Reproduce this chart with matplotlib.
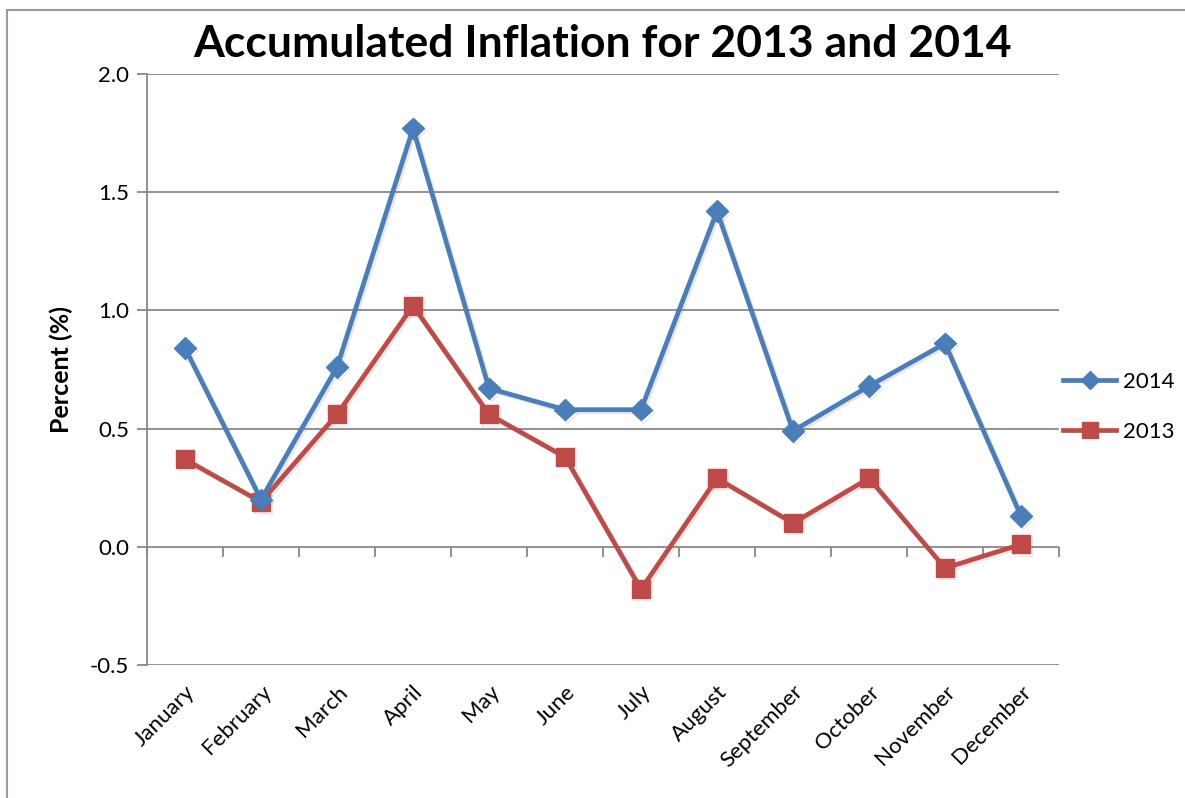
import matplotlib
matplotlib.use('Agg')
import matplotlib.pyplot as plt
import matplotlib.patheffects as pe
from matplotlib.lines import Line2D

months = ['January', 'February', 'March', 'April', 'May', 'June', 'July',
          'August', 'September', 'October', 'November', 'December']
infl_2014 = [0.84, 0.20, 0.76, 1.77, 0.67, 0.58, 0.58, 1.42, 0.49, 0.68, 0.86, 0.13]
infl_2013 = [0.37, 0.19, 0.56, 1.02, 0.56, 0.38, -0.18, 0.29, 0.10, 0.29, -0.09, 0.01]
y_ticks = [-0.5, 0.0, 0.5, 1.0, 1.5, 2.0]

plt.rcParams['font.family'] = ['Lato', 'DejaVu Sans']

BLUE = '#4A7EBB'
RED = '#BE4B48'
GRID = '#888888'

fig = plt.figure(figsize=(11.85, 7.98), dpi=100)
ax = fig.add_axes([147/1185, 1 - 665/798, (1059 - 147)/1185, (665 - 74)/798])

shadow = [pe.SimpleLineShadow(offset=(1.5, -1.5), alpha=0.18, shadow_color='gray'), pe.Normal()]
x = list(range(len(months)))
ax.plot(x, infl_2014, color=BLUE, lw=3.4, marker='D', ms=11, label='2014', zorder=4,
        path_effects=shadow)
ax.plot(x, infl_2013, color=RED, lw=3.4, marker='s', ms=13, label='2013', zorder=3,
        path_effects=shadow)

ax.set_xlim(-0.5, len(months) - 0.5)
ax.set_ylim(-0.5, 2.0)
ax.set_yticks(y_ticks)
ax.set_yticklabels([f'{v:.1f}' for v in y_ticks], fontsize=16)
ax.yaxis.grid(True, color=GRID, lw=1.3)
ax.set_axisbelow(True)
ax.tick_params(axis='y', length=7, width=1.3, color=GRID, pad=6)

ax.set_xticks(x)
ax.set_xticklabels(months, rotation=45, ha='right', rotation_mode='anchor', fontsize=16)
ax.tick_params(axis='x', length=0, pad=12)

for s in ['top', 'right', 'bottom']:
    ax.spines[s].set_visible(False)
ax.spines['left'].set_color(GRID)
ax.spines['left'].set_linewidth(1.3)

# category boundary ticks on the zero line
sec = ax.secondary_xaxis(0.2)
sec.set_xticks([i - 0.5 for i in range(len(months) + 1)])
sec.set_xticklabels([])
sec.tick_params(length=7, width=1.3, color=GRID)
sec.spines['bottom'].set_visible(False)

ax.set_ylabel('Percent (%)', fontsize=18, fontweight='bold', labelpad=12)
ax.set_title('Accumulated Inflation for 2013 and 2014', fontsize=32,
             fontweight='bold', pad=12)

handles = [Line2D([], [], color=BLUE, lw=3.4, marker='D', ms=9),
           Line2D([], [], color=RED, lw=3.4, marker='s', ms=11)]
fig.legend(handles, ['2014', '2013'], loc='center left',
           bbox_to_anchor=(1043/1185, 1 - 407/798), frameon=False,
           fontsize=16, handlelength=2.4, handletextpad=0.3, labelspacing=1.35)

# outer chart border (left and top edges visible)
fig.add_artist(Line2D([7/1185, 7/1185], [0, 1 - 10/798], color='#9a9a9a', lw=1.5))
fig.add_artist(Line2D([7/1185, 1], [1 - 10/798, 1 - 10/798], color='#9a9a9a', lw=1.5))

fig.savefig('out.png', dpi=100, facecolor='white')
